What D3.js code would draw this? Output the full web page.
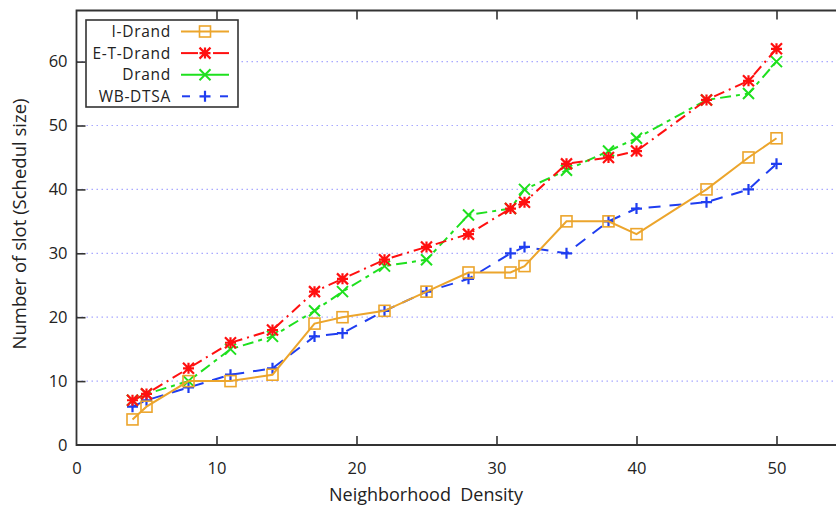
<!DOCTYPE html>
<html><head><meta charset="utf-8">
<script src="https://cdn.jsdelivr.net/npm/d3@7"></script>
<style>
html,body{margin:0;padding:0;background:#fff;}
svg{display:block;}
text{font-family:"Open Sans","Noto Sans","DejaVu Sans",sans-serif;fill:#222;}
</style></head>
<body>
<svg id="chart" width="836" height="509"></svg>
<script>
const xValues = [4,5,8,11,14,17,19,22,25,28,31,32,35,38,40,45,48,50];
const iDrand   = [4,6,10,10,11,19,20,21,24,27,27,28,35,35,33,40,45,48];
const etDrand  = [7,8,12,16,18,24,26,29,31,33,37,38,44,45,46,54,57,62];
const drand    = [7,8,10,15,17,21,24,28,29,36,37,40,43,46,48,54,55,60];
const wbDtsa   = [6,7,9,11,12,17,17.5,21,24,26,30,31,30,35,37,38,40,44];
const seriesNames = ["I-Drand","E-T-Drand","Drand","WB-DTSA"];
const xTicks = [0,10,20,30,40,50];
const yTicks = [0,10,20,30,40,50,60];
const xLabel = "Neighborhood  Density";
const yLabel = "Number of slot (Schedul size)";

const series = [
  {name:seriesNames[0], values:iDrand,  color:"#eca52c", dash:null,        marker:"square"},
  {name:seriesNames[1], values:etDrand, color:"#ff1010", dash:"11,5,2,5",  marker:"star"},
  {name:seriesNames[2], values:drand,   color:"#1ee01e", dash:"11,5,4,5",  marker:"cross"},
  {name:seriesNames[3], values:wbDtsa,  color:"#1f3df0", dash:"12,9",      marker:"plus"}
];

const svg = d3.select("#chart");
const L = 76.5, T = 10.5, B = 445, R = 846.5;
const x = d3.scaleLinear().domain([0,55]).range([L,R]);
const y = d3.scaleLinear().domain([0,68]).range([B,T]);

// grid
svg.append("g").selectAll("line").data(yTicks.filter(d=>d>0)).join("line")
  .attr("x1",L).attr("x2",R).attr("y1",d=>y(d)).attr("y2",d=>y(d))
  .attr("stroke","#a8a8ff").attr("stroke-width",1.2).attr("stroke-dasharray","1.5,3.5");

// lines & markers
const line = d3.line().x(d=>x(d[0])).y(d=>y(d[1]));
function drawMarker(g, type, cx, cy, color){
  const s = 5.5;
  if(type==="square"){
    g.append("rect").attr("x",cx-s).attr("y",cy-s).attr("width",2*s).attr("height",2*s)
      .attr("fill","none").attr("stroke",color).attr("stroke-width",1.6);
  } else if(type==="plus"){
    g.append("path").attr("d",`M${cx-s},${cy}H${cx+s}M${cx},${cy-s}V${cy+s}`)
      .attr("stroke",color).attr("stroke-width",2.2);
  } else if(type==="cross"){
    g.append("path").attr("d",`M${cx-s},${cy-s}L${cx+s},${cy+s}M${cx-s},${cy+s}L${cx+s},${cy-s}`)
      .attr("stroke",color).attr("stroke-width",2);
  } else if(type==="star"){
    g.append("path").attr("d",`M${cx-s},${cy}H${cx+s}M${cx},${cy-s}V${cy+s}M${cx-s},${cy-s}L${cx+s},${cy+s}M${cx-s},${cy+s}L${cx+s},${cy-s}`)
      .attr("stroke",color).attr("stroke-width",2.2);
  }
}
const plotG = svg.append("g");
series.slice().reverse().forEach(s=>{
  const pts = xValues.map((xv,i)=>[xv,s.values[i]]);
  plotG.append("path").datum(pts).attr("d",line).attr("fill","none")
    .attr("stroke",s.color).attr("stroke-width",2)
    .attr("stroke-dasharray",s.dash);
  const mg = plotG.append("g");
  pts.forEach(p=>drawMarker(mg,s.marker,x(p[0]),y(p[1]),s.color));
});

// frame
const frameColor = "#333";
svg.append("path").attr("d",`M${R},${T}H${L}V${B}H${R}`).attr("fill","none")
  .attr("stroke",frameColor).attr("stroke-width",1.8);

// x axis ticks (bottom, inward) and mirrored top ticks
const xAxis = d3.axisBottom(x).tickValues(xTicks).tickSizeInner(-9).tickSizeOuter(0).tickPadding(17);
const gx = svg.append("g").attr("transform",`translate(0,${B})`).call(xAxis);
gx.select(".domain").remove();
gx.selectAll("line").attr("stroke",frameColor).attr("stroke-width",1.6);
gx.selectAll("text").attr("font-size",16.5).attr("fill","#222");
gx.selectAll(".tick").filter(d=>d===0).select("line").remove();

const xTop = d3.axisTop(x).tickValues(xTicks.filter(d=>d>0)).tickSizeInner(-9).tickSizeOuter(0).tickFormat("");
const gxt = svg.append("g").attr("transform",`translate(0,${T})`).call(xTop);
gxt.select(".domain").remove();
gxt.selectAll("line").attr("stroke",frameColor).attr("stroke-width",1.6);

const yAxis = d3.axisLeft(y).tickValues(yTicks).tickSizeInner(-9).tickSizeOuter(0).tickPadding(9);
const gy = svg.append("g").attr("transform",`translate(${L},0)`).call(yAxis);
gy.select(".domain").remove();
gy.selectAll("line").attr("stroke",frameColor).attr("stroke-width",1.6);
gy.selectAll("text").attr("font-size",16.5).attr("fill","#222");
gy.selectAll(".tick").filter(d=>d===0).select("line").remove();

// axis labels
svg.append("text").attr("x",426).attr("y",501).attr("text-anchor","middle")
  .attr("font-size",18).style("white-space","pre").text(xLabel);
svg.append("text").attr("transform","translate(26,224) rotate(-90)").attr("text-anchor","middle")
  .attr("font-size",18.5).text(yLabel);

// legend
const lg = svg.append("g");
lg.append("rect").attr("x",86).attr("y",20).attr("width",152).attr("height",87)
  .attr("fill","#fff").attr("stroke",frameColor).attr("stroke-width",1.6);
series.forEach((s,i)=>{
  const cy = 31.5 + i*21.6;
  lg.append("text").attr("x",171).attr("y",cy).attr("dy","0.35em").attr("text-anchor","end")
    .attr("font-size",15.5).attr("letter-spacing",0.7).text(s.name);
  let d;
  if(s.marker==="square") d=[[181,229]];
  else if(s.marker==="star") d=[[181,198],[213,229]];
  else if(s.marker==="cross") d=[[181,229]];
  else d=[[182,190],[220,228]];
  d.forEach(seg=>lg.append("line").attr("x1",seg[0]).attr("x2",seg[1]).attr("y1",cy).attr("y2",cy)
    .attr("stroke",s.color).attr("stroke-width",2));
  drawMarker(lg,s.marker,205,cy,s.color);
});
</script>
</body></html>
